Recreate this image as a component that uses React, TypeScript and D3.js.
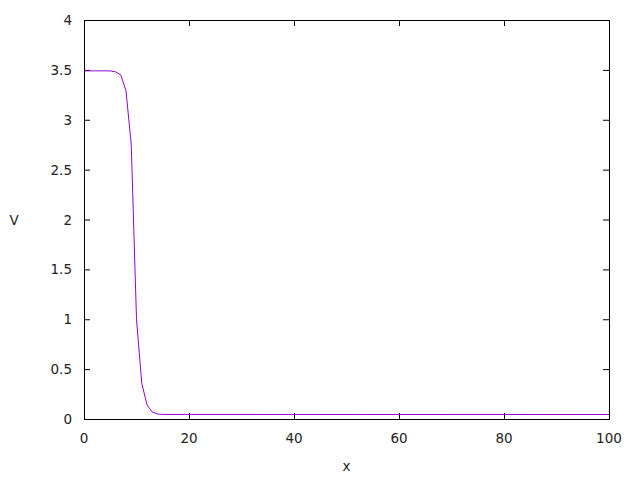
import React from "react";
import * as d3 from "d3";

// values (flat tail after x=15)
const xs = [0, 1, 2, 3, 4, 5, 6, 7, 8, 9, 10, 11, 12, 13, 14, 15, 100];
const vs = [3.49, 3.49, 3.49, 3.49, 3.49, 3.49, 3.48, 3.45, 3.29, 2.75, 1.0, 0.36, 0.14, 0.07, 0.05, 0.046, 0.045];
const xTicks = [0, 20, 40, 60, 80, 100];
const yTicks = [0, 0.5, 1, 1.5, 2, 2.5, 3, 3.5, 4];

const W = 640;
const H = 480;
const margin = { top: 20, right: 31, bottom: 61, left: 84 };
const font = "'DejaVu Sans', sans-serif";

const App = () => {
  const x = d3.scaleLinear().domain([0, 100]).range([margin.left, W - margin.right]);
  const y = d3.scaleLinear().domain([0, 4]).range([H - margin.bottom, margin.top]);
  const pts: [number, number][] = xs.map((d, i) => [d, vs[i]]);
  const line = d3.line<[number, number]>().x(d => x(d[0])).y(d => y(d[1]));
  const tl = 6;
  const x0 = x(0), x1 = x(100), y0 = y(0), y1 = y(4);

  return (
    <svg width={W} height={H} style={{ position: "absolute", left: 0, top: 0, background: "#fff" }}
      fontFamily={font} fontSize={13.5}>
      <rect width={W} height={H} fill="#fff" />
      {/* ticks, mirrored on all four sides */}
      {xTicks.map(t => (
        <g key={"x" + t}>
          <line x1={x(t) + 0.5} x2={x(t) + 0.5} y1={y0} y2={y0 - tl} stroke="#000" />
          <line x1={x(t) + 0.5} x2={x(t) + 0.5} y1={y1} y2={y1 + tl} stroke="#000" />
          <text x={x(t)} y={y0 + 24} textAnchor="middle" fill="#222">{t}</text>
        </g>
      ))}
      {yTicks.map(t => (
        <g key={"y" + t}>
          <line x1={x0} x2={x0 + tl} y1={y(t) + 0.5} y2={y(t) + 0.5} stroke="#000" />
          <line x1={x1} x2={x1 - tl} y1={y(t) + 0.5} y2={y(t) + 0.5} stroke="#000" />
          <text x={x0 - 12} y={y(t) + 5} textAnchor="end" fill="#222">{t}</text>
        </g>
      ))}
      <path d={line(pts) ?? ""} fill="none" stroke="#9400d3" strokeWidth={1} />
      <rect x={x0 + 0.5} y={y1 + 0.5} width={x1 - x0} height={y0 - y1} fill="none" stroke="#000" strokeWidth={1} />
      <text x={(x0 + x1) / 2} y={471} textAnchor="middle" fill="#222">x</text>
      <text x={14} y={225} textAnchor="middle" fill="#222">V</text>
    </svg>
  );
};

export default App;
